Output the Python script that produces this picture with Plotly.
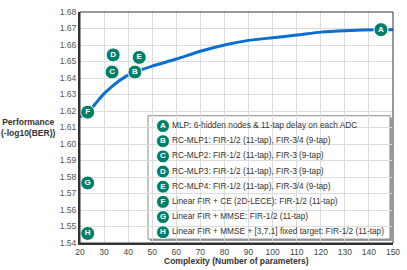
import plotly.graph_objects as go

# ---- data ----
curve_x = [20, 23.2, 27, 30, 33, 36, 39, 42.8, 50, 60, 70, 80, 90, 100, 110, 120, 130, 145, 150]
curve_y = [1.6165, 1.619, 1.6255, 1.6305, 1.6345, 1.638, 1.641, 1.6436, 1.6472, 1.6515,
           1.6562, 1.6600, 1.6628, 1.6644, 1.6660, 1.6678, 1.6687, 1.6693, 1.6693]

point_labels = ["A", "B", "C", "D", "E", "F", "G", "H"]
point_x = [145, 42.8, 33.3, 33.8, 44.6, 23.2, 23.2, 23.2]
point_y = [1.6693, 1.6436, 1.6436, 1.6540, 1.6525, 1.6193, 1.5764, 1.5458]

legend_texts = [
    "MLP: 6-hidden nodes & 11-tap delay on each ADC",
    "RC-MLP1: FIR-1/2 (11-tap), FIR-3/4 (9-tap)",
    "RC-MLP2: FIR-1/2 (11-tap), FIR-3 (9-tap)",
    "RC-MLP3: FIR-1/2 (11-tap), FIR-3 (9-tap)",
    "RC-MLP4: FIR-1/2 (11-tap), FIR-3/4 (9-tap)",
    "Linear FIR + CE (2D-LECE): FIR-1/2 (11-tap)",
    "Linear FIR + MMSE: FIR-1/2 (11-tap)",
    "Linear FIR + MMSE + [3,7,1] fixed target: FIR-1/2 (11-tap)",
]

x_ticks = list(range(20, 151, 10))
y_ticks = [round(1.54 + 0.01 * i, 2) for i in range(15)]

# ---- styling ----
TEAL = "#007f68"
BLUE = "#0a6fd0"
FONT = "Liberation Sans, Arial, sans-serif"

W, H = 407, 270
ML, MR, MT, MB = 80, 14, 7, 27

fig = go.Figure()

fig.add_trace(go.Scatter(x=curve_x, y=curve_y, mode="lines",
                         line=dict(color=BLUE, width=3, shape="spline", smoothing=0.6),
                         hoverinfo="skip", showlegend=False))

fig.add_trace(go.Scatter(x=point_x, y=point_y, mode="markers+text",
                         marker=dict(size=14, color=TEAL, line=dict(color="white", width=1)),
                         text=[f"<b>{t}</b>" for t in point_labels],
                         textposition="middle center",
                         textfont=dict(color="white", size=8, family=FONT),
                         showlegend=False, cliponaxis=False))

# Legend on a hidden pixel-based overlay axis
leg_top = 123.5
leg_step = 15.5
rows_y = [leg_top + i * leg_step for i in range(len(point_labels))]
fig.add_trace(go.Scatter(x=[163] * len(point_labels), y=rows_y, mode="markers+text",
                         marker=dict(size=13, color=TEAL, line=dict(color="white", width=1)),
                         text=[f"<b>{t}</b>" for t in point_labels],
                         textposition="middle center",
                         textfont=dict(color="white", size=8, family=FONT),
                         xaxis="x2", yaxis="y2", showlegend=False, cliponaxis=False))
fig.add_trace(go.Scatter(x=[172] * len(point_labels), y=rows_y, mode="text",
                         text=legend_texts, textposition="middle right",
                         textfont=dict(color="#333333", size=8.3, family=FONT),
                         xaxis="x2", yaxis="y2", showlegend=False, cliponaxis=False))

fig.update_layout(
    width=W, height=H,
    margin=dict(l=ML, r=MR, t=MT, b=MB),
    paper_bgcolor="white", plot_bgcolor="white",
    font=dict(family=FONT, color="#444444", size=8.5),
    xaxis=dict(range=[20, 150], tickvals=x_ticks, ticktext=[str(v) for v in x_ticks],
               showgrid=True, gridcolor="#dcdcdc", gridwidth=1,
               showline=True, linecolor="#333333", linewidth=2,
               ticks="", zeroline=False, tickfont=dict(size=8.5, color="#444444")),
    yaxis=dict(range=[1.54, 1.68], tickvals=y_ticks, ticktext=[f"{v:.2f}" for v in y_ticks],
               showgrid=True, gridcolor="#dcdcdc", gridwidth=1,
               showline=True, linecolor="#333333", linewidth=2,
               ticks="", zeroline=False, tickfont=dict(size=8.5, color="#555555")),
    xaxis2=dict(range=[ML, W - MR], overlaying="x", visible=False, fixedrange=True),
    yaxis2=dict(range=[H - MB, MT], overlaying="y", visible=False, fixedrange=True),
    shapes=[
        dict(type="rect", xref="paper", yref="paper", x0=0, x1=1, y0=0, y1=1,
             line=dict(color="#333333", width=1), layer="above"),
        # legend shadow + box (pixel coordinates on overlay axes)
        dict(type="rect", xref="x2", yref="y2", x0=150, x1=392, y0=115, y1=241,
             fillcolor="#9a9a9a", line=dict(width=0), layer="below"),
        dict(type="rect", xref="x2", yref="y2", x0=148, x1=390, y0=113, y1=239,
             fillcolor="white", line=dict(color="#8a8a8a", width=1), layer="below"),
    ],
    annotations=[
        dict(text="<b>Performance<br>(-log10(BER))</b>", xref="paper", yref="paper",
             x=-0.165, y=0.50, xanchor="center", yanchor="middle", showarrow=False,
             font=dict(size=8.5, color="#333333", family=FONT), align="center"),
        dict(text="<b>Complexity (Number of parameters)</b>", xref="paper", yref="paper",
             x=0.5, y=-0.08, xanchor="center", yanchor="middle", showarrow=False,
             font=dict(size=8.5, color="#333333", family=FONT)),
    ],
)

fig.write_html("out.html", config={"displayModeBar": False},
               post_script="document.body.style.margin='0';document.body.style.overflow='hidden';")
